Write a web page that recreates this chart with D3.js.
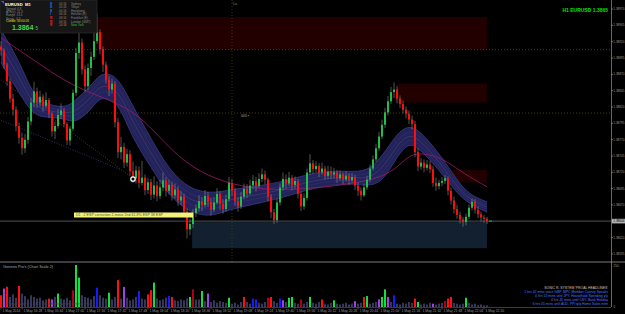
<!DOCTYPE html>
<html>
<head>
<meta charset="utf-8">
<script src="https://cdn.jsdelivr.net/npm/d3@7"></script>
<style>
body{margin:0;background:#000}
svg{display:block;font-family:"Liberation Sans",Arial,sans-serif}
</style>
</head>
<body>
<svg id="chart" width="625" height="314"></svg>
<script>
// all prices are pips above 1.38000
var base = 1.38
var firstOpen = 91.2
var closes = [90.6,88.4,85.9,83.2,81.5,79.0,77.2,75.6,76.9,79.7,
  82.6,84.3,82.6,83.5,82.1,83.0,80.9,78.2,79.0,80.7,
  81.4,79.3,76.8,78.6,84.1,90.2,91.8,87.7,85.1,87.9,
  89.6,92.0,93.4,90.8,88.4,86.1,84.6,85.5,79.6,75.0,
  75.8,73.4,74.7,72.1,71.0,72.2,70.3,71.1,69.2,70.4,
  68.5,69.9,68.3,69.6,70.7,69.1,70.0,68.4,69.3,67.6,
  68.2,65.9,63.2,64.0,65.7,66.4,67.5,66.9,68.3,67.4,
  66.2,67.3,68.6,67.1,66.3,67.8,70.3,69.1,67.5,66.7,
  68.2,69.4,68.7,69.9,70.6,69.8,70.9,71.6,70.8,68.2,
  65.8,64.6,67.3,69.6,70.9,70.2,71.1,70.0,70.6,68.6,
  66.7,68.0,71.9,73.3,72.4,72.9,71.9,72.5,71.4,72.0,
  71.6,71.9,71.0,71.6,70.8,71.4,70.7,71.2,69.9,69.1,
  68.4,69.6,70.8,72.5,73.9,75.6,77.4,79.2,81.1,82.8,
  84.2,84.6,83.2,82.4,81.5,80.9,80.0,79.3,75.0,72.8,
  73.4,72.6,73.1,72.4,70.3,69.8,70.3,70.6,71.0,69.1,
  67.6,66.3,65.4,64.7,64.3,65.1,66.5,67.4,66.2,65.5,
  65.0,64.8,64.45]
var highs = [92.0,90.9,88.7,86.3,83.9,82.0,79.5,78.0,77.8,80.4,
  83.3,85.8,84.9,84.4,83.9,84.2,83.3,81.2,79.7,81.6,
  82.5,81.8,79.6,79.0,84.6,91.0,95.1,92.4,88.3,88.6,
  90.4,93.4,96.2,93.8,91.2,88.9,86.7,86.3,85.9,80.2,
  77.3,76.4,75.5,75.3,73.6,72.9,72.8,73.7,71.6,71.0,
  70.9,71.3,70.5,70.8,71.9,71.2,70.8,70.5,70.2,69.8,
  69.1,68.7,66.4,64.8,66.3,67.0,68.4,68.1,69.2,68.9,
  68.0,68.1,69.5,69.0,67.8,68.5,71.2,70.9,69.6,68.1,
  68.9,70.2,70.1,70.8,71.5,71.2,71.8,72.5,72.2,71.1,
  68.6,66.3,67.9,70.2,71.9,71.6,72.0,71.5,71.3,70.9,
  69.0,68.7,72.5,74.7,73.8,73.6,73.3,73.4,72.9,72.9,
  72.8,72.6,72.3,72.2,71.9,72.1,71.8,71.8,71.5,70.4,
  69.6,70.2,71.4,73.1,74.5,76.3,78.1,80.0,81.8,83.6,
  85.0,85.7,85.1,83.7,82.9,82.0,81.4,80.6,79.8,75.6,
  74.1,73.9,73.8,73.7,72.9,71.1,70.8,71.2,71.5,71.3,
  69.6,68.2,66.9,65.9,65.1,65.6,67.0,67.9,67.8,66.7,
  65.9,65.4,65.1]
var lows = [89.8,87.8,85.2,82.6,80.6,78.2,76.3,74.6,74.9,76.3,
  79.1,81.9,81.8,82.0,81.2,81.7,80.2,77.4,77.0,78.6,
  80.1,78.8,76.1,76.0,78.2,83.6,89.3,86.9,84.2,84.5,
  86.7,89.1,91.6,90.0,87.3,85.5,83.6,84.0,78.8,74.1,
  73.9,72.6,72.8,71.4,70.3,70.2,69.5,69.9,68.4,68.6,
  67.7,67.9,67.5,67.8,69.0,68.2,68.5,67.6,67.9,66.8,
  66.9,65.1,61.8,62.3,63.4,65.1,65.9,66.0,66.5,66.6,
  65.3,65.8,67.0,66.2,65.6,65.9,67.4,68.3,66.8,65.9,
  66.3,67.8,68.0,68.4,69.3,69.0,69.5,70.4,70.1,67.5,
  64.9,64.0,64.2,66.8,69.1,69.5,69.8,69.2,69.4,67.9,
  66.0,66.2,67.6,71.5,71.7,71.9,71.2,71.5,70.8,70.9,
  70.9,71.0,70.3,70.6,70.1,70.5,70.0,70.3,69.2,68.3,
  67.6,68.1,69.2,70.4,72.2,73.5,75.2,77.0,78.7,80.6,
  82.4,83.3,82.5,81.8,80.9,80.2,79.3,78.5,74.2,72.1,
  72.3,71.9,72.2,71.8,69.7,69.1,69.3,69.8,70.1,68.4,
  67.0,65.6,64.8,64.1,63.6,63.8,64.8,66.1,65.6,64.9,
  64.4,64.2,64.0]

var volumes = [70,110,120,60,75,55,125,80,65,45,
  70,60,50,55,40,45,50,45,60,80,
  50,45,55,40,100,250,175,70,60,55,
  45,65,115,70,55,50,85,45,60,160,
  50,120,55,40,45,60,95,50,45,75,
  100,145,50,40,45,55,65,60,40,35,
  45,40,50,60,105,45,45,95,35,80,
  30,40,25,35,30,25,55,20,25,15,
  30,60,30,20,50,45,25,20,30,55,
  60,35,25,50,40,30,55,60,25,20,
  45,20,30,60,25,20,30,45,20,15,
  25,40,20,15,20,25,15,20,35,20,
  25,60,65,20,25,30,45,60,105,60,
  30,70,20,15,25,20,30,25,50,30,
  15,20,15,25,20,15,20,25,35,50,
  60,25,20,15,20,55,25,15,20,10,
  15,10,10]
// n normal, r red, g green, b blue, m purple, d dark red
var volKinds = ("rmrnnnrnnn"+"nnnnnnrmng"+"nnnndggnnn"+"nnbnnngnnr"+"nmnnnnbnnr"+
  "rgnnnnbrnn"+"nnngdnngnm"+"nnnnnngnnn"+"nrnnbbnnnd"+"rnnbmnggnn"+
  "dnngnnnrnn"+"ngnnnnnnmn"+"nrgnnnmggm"+"nbnnnnnnrg"+"nnnnmnnndr"+
  "rnnnngnnnn"+"nnn").split("")

// channel band (candle index, middle, half width) and slow average
var bandIdx = [0,6,11,16,22,25,30,33,37,40,44,50,56,63,70,76,83,94,105,116,122,127,132,136,140,146,152,156,162]
var bandMid = [91.2,86.6,81.9,81.3,80.9,81.3,83.3,85.3,85.0,83.6,79.5,74.9,70.3,67.5,66.9,67.7,68.3,69.2,70.9,71.2,70.9,72.3,76.1,77.9,76.7,73.6,69.7,67.8,66.6]
var bandHalf = [2.5,2.5,1.45,0.9,0.9,1.8,1.8,1.8,2.0,2.0,2.5,2.2,2.0,1.8,1.8,1.5,1.4,1.2,1.2,0.9,1.1,2.0,1.8,1.3,1.4,1.3,1.0,0.7,0.8]
var maIdx = [0,11,22,33,44,53,61,72,83,94,105,116,127,133,137,144,149,154,162]
var maVal = [92.5,89.1,85.6,83.5,81.5,77.3,73.4,70.7,69.5,69.2,69.5,70.1,71.1,73.0,75.0,74.6,73.5,71.8,69.7]

// zones: start idx, end idx, top, bottom
var supplyZones = [[32,162,95.7,90.7],[132,162,85.5,82.6],[148.7,162,72.3,70.4]]
var demandZones = [[63.7,162,64.3,60.3]]
var levels = [90.7, 81.0]
var trendLines = [[[0,86.1],[44,71.0]], [[0,79.9],[40,72.3]]]
var vLineIdx = 77
var markerPoint = [44, 70.9]
var lastPrice = 64.45

var priceTicks = [97.0,94.5,92.0,89.5,87.0,84.5,82.0,79.5,77.0,74.5,72.0,69.5,67.0,64.5,62.0,59.5]
var timeLabels = ["1 May 2014","1 May 16:28","1 May 16:44","1 May 17:00","1 May 17:16","1 May 17:32",
  "1 May 17:48","1 May 18:04","1 May 18:20","1 May 18:36","1 May 18:52","1 May 19:08",
  "1 May 19:24","1 May 19:40","1 May 19:56","1 May 20:12","1 May 20:28","1 May 20:44",
  "1 May 21:00","1 May 21:16","1 May 21:32","1 May 21:48","1 May 22:04","1 May 22:20"]

var svg = d3.select("#chart")
var x = d3.scaleLinear().domain([0, 162]).range([1, 487])
var y = d3.scaleLinear().domain([58.8, 98.0]).range([258, 2])
var yv = d3.scaleLinear().domain([0, 250]).range([307, 265])
var fmt = function(v){ return (base + v/10000).toFixed(5) }

svg.append("rect").attr("width",625).attr("height",314).attr("fill","#000")

// zones
svg.selectAll(".sz").data(supplyZones).enter().append("rect")
  .attr("x", d => x(d[0])).attr("width", d => x(d[1]) - x(d[0]))
  .attr("y", d => y(d[2])).attr("height", d => y(d[3]) - y(d[2]))
  .attr("fill", "#220000")
svg.selectAll(".dz").data(demandZones).enter().append("rect")
  .attr("x", d => x(d[0])).attr("width", d => x(d[1]) - x(d[0]))
  .attr("y", d => y(d[2])).attr("height", d => y(d[3]) - y(d[2]))
  .attr("fill", "#13202f")

// dotted levels
svg.selectAll(".lv").data(levels).enter().append("line")
  .attr("x1",0).attr("x2",611).attr("y1", d => y(d)).attr("y2", d => y(d))
  .attr("stroke","#5a5a22").attr("stroke-width",0.7).attr("stroke-dasharray","1,2")
svg.append("line").attr("x1",x(vLineIdx)).attr("x2",x(vLineIdx)).attr("y1",0).attr("y2",262)
  .attr("stroke","#4a4a1e").attr("stroke-width",0.7).attr("stroke-dasharray","1,2")
svg.append("text").attr("x",x(vLineIdx)+1).attr("y",5).attr("font-size",3.8).attr("fill","#8a8a30").text("Lo")
svg.append("text").attr("x",241).attr("y",117).attr("font-size",3.5).attr("fill","#aaa").text("005 ▪")

// trend lines
svg.selectAll(".tl").data(trendLines).enter().append("line")
  .attr("x1", d => x(d[0][0])).attr("y1", d => y(d[0][1]))
  .attr("x2", d => x(d[1][0])).attr("y2", d => y(d[1][1]))
  .attr("stroke","#3c4c78").attr("stroke-width",0.7).attr("stroke-dasharray","1,1.5")

// band
var band = bandIdx.map((d,i) => ({i:d, m:bandMid[i], h:bandHalf[i]}))
var area = d3.area().x(d => x(d.i)).y0(d => y(d.m - d.h)).y1(d => y(d.m + d.h)).curve(d3.curveBasis)
svg.append("path").datum(band).attr("d", area).attr("fill","#23235a")
var edge = function(k){ return d3.line().x(d => x(d.i)).y(d => y(d.m + k*d.h)).curve(d3.curveBasis) }
;[-1, 1].forEach(function(k){
  svg.append("path").datum(band).attr("d", edge(k)).attr("fill","none").attr("stroke","#3e3e8e").attr("stroke-width",0.7)
})
;[-0.45, 0.45].forEach(function(k){
  svg.append("path").datum(band).attr("d", edge(k)).attr("fill","none").attr("stroke","#33337a").attr("stroke-width",0.5)
})
svg.append("path").datum(band).attr("d", edge(0)).attr("fill","none").attr("stroke","#55558a").attr("stroke-width",0.4)

// slow average
var ma = maIdx.map((d,i) => [d, maVal[i]])
svg.append("path").datum(ma)
  .attr("d", d3.line().x(d => x(d[0])).y(d => y(d[1])).curve(d3.curveBasis))
  .attr("fill","none").attr("stroke","#9a1a68").attr("stroke-width",0.8)

// bid line
svg.append("line").attr("x1",0).attr("x2",611).attr("y1",y(lastPrice)).attr("y2",y(lastPrice))
  .attr("stroke","#8a8a8a").attr("stroke-width",0.6)

// candles
var candles = closes.map(function(c,i){
  return {i:i, o: i == 0 ? firstOpen : closes[i-1], c:c, h:highs[i], l:lows[i]}
})
var cg = svg.append("g")
cg.selectAll(".wick").data(candles).enter().append("line")
  .attr("x1", d => x(d.i)).attr("x2", d => x(d.i))
  .attr("y1", d => y(d.h)).attr("y2", d => y(d.l))
  .attr("stroke","#8c8c8c").attr("stroke-width",0.6)
cg.selectAll(".body").data(candles).enter().append("rect")
  .attr("x", d => x(d.i) - 1).attr("width", 2)
  .attr("y", d => y(Math.max(d.o,d.c)))
  .attr("height", d => Math.max(0.6, Math.abs(y(d.o) - y(d.c))))
  .attr("fill", d => d.c >= d.o ? "#1fbf48" : "#ff0d0d")

svg.append("line").attr("x1",x(162)+2).attr("x2",x(162)+5).attr("y1",y(lastPrice)).attr("y2",y(lastPrice))
  .attr("stroke","#00ff00").attr("stroke-width",0.8)

svg.append("circle").attr("cx",x(markerPoint[0])).attr("cy",y(markerPoint[1])).attr("r",2.2)
  .attr("fill","#000").attr("stroke","#fff").attr("stroke-width",1.3)

// yellow note
svg.append("rect").attr("x",74).attr("y",212.5).attr("width",119).attr("height",5).attr("fill","#f2f27c")
svg.append("text").attr("x",76).attr("y",216.4).attr("font-size",3.6).attr("fill","#555522")
  .text("D1 : 2 ESP correction 2-move 2nd 61.8% ESP 38 ESP")

// info panel
svg.append("rect").attr("x",0).attr("y",0).attr("width",97).attr("height",33)
  .attr("fill","#161616").attr("stroke","#333").attr("stroke-width",0.6)
svg.append("path").attr("d","M1,1 l3,0 l0,3 z").attr("fill","#2060ff")
svg.append("text").attr("x",5).attr("y",5.5).attr("font-size",4.2).attr("font-weight","bold").attr("fill","#fff").text("EURUSD")
svg.append("text").attr("x",25).attr("y",5.5).attr("font-size",4.2).attr("font-weight","bold").attr("fill","#fff").text("M1")
var infoRows = ["Spread:  0.8","ATR(s):  11.3","Range:   13.6","Swap:    -0.3"]
infoRows.forEach(function(t,i){
  svg.append("text").attr("x",6).attr("y",10 + i*3.2).attr("font-size",3).attr("fill","#888").text(t)
})
svg.append("text").attr("x",6).attr("y",22.3).attr("font-size",3).attr("fill","#e0e000").text("Candle:   00:00:26")
svg.append("text").attr("x",12).attr("y",29.5).attr("font-size",7).attr("font-weight","bold").attr("fill","#4cd44c").text("1.3864")
svg.append("text").attr("x",35.5).attr("y",29.5).attr("font-size",4.5).attr("fill","#4cd44c").text("5")
var sessLetters = ["S","S","S","I","R","R","R"]
var sessColors = ["#2080ff","#2080ff","#2080ff","#2080ff","#ff2020","#ff2020","#ff2020"]
var sessTimes = ["00:16","00:16","00:16","06:16","08:16","09:16","14:16"]
var sessNames = ["Sydney","Tokyo","Hongkong","Helsinki (E)","Frankfurt (E)","London (GMT)","New York"]
sessNames.forEach(function(t,i){
  var yy = 4.5 + i*3.6
  svg.append("text").attr("x",50).attr("y",yy).attr("font-size",3.2).attr("font-weight","bold").attr("fill",sessColors[i]).text(sessLetters[i])
  svg.append("text").attr("x",59).attr("y",yy).attr("font-size",3).attr("fill", i == 6 ? "#d08030" : "#888").text(sessTimes[i])
  svg.append("text").attr("x",71).attr("y",yy).attr("font-size",3).attr("fill", i == 6 ? "#30c030" : "#888").text(t)
})

svg.append("text").attr("x",608).attr("y",12).attr("text-anchor","end").attr("font-size",5)
  .attr("font-weight","bold").attr("fill","#00e000").text("H1 EURUSD 1.3865")

// price axis
svg.append("line").attr("x1",611.5).attr("x2",611.5).attr("y1",0).attr("y2",307).attr("stroke","#aaa").attr("stroke-width",0.6)
var axis = svg.append("g").attr("transform","translate(611.5,0)")
  .call(d3.axisRight(y).tickValues(priceTicks).tickFormat(fmt).tickSize(1.2))
axis.select(".domain").remove()
axis.selectAll("text").attr("font-size",3.1).attr("fill","#999").attr("x",1.8)
axis.selectAll("line").attr("stroke","#999")
svg.append("rect").attr("x",612).attr("y",y(lastPrice)-2.3).attr("width",13).attr("height",4.6).attr("fill","#b4b4b4")
svg.append("text").attr("x",613.3).attr("y",y(lastPrice)+1.1).attr("font-size",3.1).attr("fill","#000").text(fmt(lastPrice))

// volume window
svg.append("line").attr("x1",0).attr("x2",625).attr("y1",262).attr("y2",262).attr("stroke","#9a9a9a").attr("stroke-width",0.8)
svg.append("text").attr("x",3).attr("y",268).attr("font-size",3.8).attr("fill","#aaa").text("Genesis Pro's  (Chart Scale 2)")
var volColor = {n:"#36365a", r:"#ff1010", g:"#10e040", b:"#1a1aff", m:"#a040e0", d:"#b00018"}
svg.append("g").selectAll("rect").data(volumes).enter().append("rect")
  .attr("x", (d,i) => x(i) - 1).attr("width", 2)
  .attr("y", d => yv(d)).attr("height", d => yv(0) - yv(d))
  .attr("fill", (d,i) => volColor[volKinds[i]])
svg.append("text").attr("x",613.5).attr("y",266.5).attr("font-size",3.1).attr("fill","#999").text("250")
svg.append("text").attr("x",613.5).attr("y",308).attr("font-size",3.1).attr("fill","#999").text("0")
svg.append("text").attr("x",5).attr("y",305).attr("font-size",3.3).attr("fill","#4a4a4a")
  .text("© NewsTrader's © 2013, 2014  Forex Factory Genesis Pro")

var news = [["SONIC R. SYSTEM 'PROAL HEADLINES'","#c8c8c8"],
  ["1 hrs 42 mins since GBP, MPC Member Carney Speaks","#3c7cff"],
  ["4 hrs 13 mins until JPY, Household Spending y/y","#3c7cff"],
  ["4 hrs 45 mins until CNY, Bank Holiday","#6a6aff"],
  ["6 hrs 45 mins until AUD, PPI q/q Home Sales m/m","#3c7cff"]]
news.forEach(function(n,i){
  svg.append("text").attr("x",608).attr("y",288.5 + i*4.1).attr("text-anchor","end")
    .attr("font-size",3.4).attr("fill",n[1]).text(n[0])
})

// time axis
svg.append("line").attr("x1",0).attr("x2",611).attr("y1",307.5).attr("y2",307.5).attr("stroke","#777").attr("stroke-width",0.5)
var tx = svg.append("g").selectAll("g").data(timeLabels).enter().append("g")
  .attr("transform", (d,i) => "translate(" + x(i*7) + ",307.5)")
tx.append("line").attr("y1",0).attr("y2",2).attr("stroke","#888").attr("stroke-width",0.5)
tx.append("text").attr("x",1.5).attr("y",4.8).attr("font-size",3.4).attr("fill","#999").text(d => d)
</script>
</body>
</html>
